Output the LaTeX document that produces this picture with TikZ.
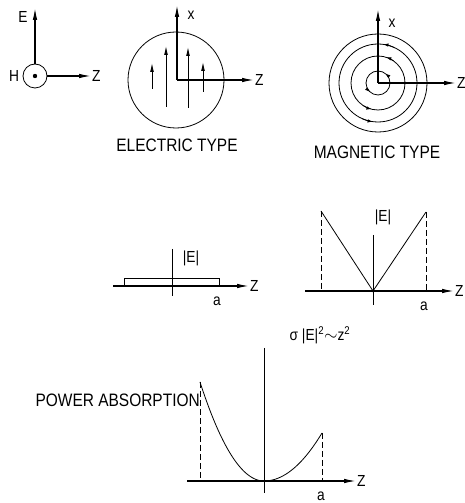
\documentclass[tikz,border=0pt]{standalone}
\usepackage{fontspec}
\setmainfont{Liberation Sans}
\newfontfamily\drafting[FakeStretch=0.86]{Liberation Sans}
\usetikzlibrary{arrows.meta}

\begin{document}
\begin{tikzpicture}[x=1pt, y=1pt, >={Latex[length=12pt,width=4.5pt]},
  axis/.style={->, line width=1.2pt},
  thinline/.style={line width=0.8pt},
  fieldarrow/.style={-{Latex[length=9pt,width=3.8pt]}, line width=0.8pt},
  ringarrow/.style={-{Latex[length=5pt,width=3.5pt]}, line width=0.8pt},
  guide/.style={dashed, line width=0.8pt, dash pattern=on 6pt off 3pt},
  lbl/.style={font=\drafting\fontsize{16}{18}\selectfont, inner sep=1pt},
  caption/.style={font=\drafting\fontsize{18}{20}\selectfont, inner sep=1pt}]
  \useasboundingbox (0,0) rectangle (465,503);

  % --- 1. E, H, Z ---
  \coordinate (H) at (35,427);
  \draw[thinline] (H) circle (12);
  \fill (H) circle (2.2);
  \draw[axis] (35,439) -- (35,495) coordinate (Etip);
  \draw[axis] (47,427) -- (91,427) coordinate (Ztip1);
  \node[lbl] (Elbl) at (23,486) {E};
  \node[lbl] (Hlbl) at (14,427) {H};
  \node[lbl, right] (Zlbl1) at (Ztip1) {Z};

  % --- 2. electric type ---
  \coordinate (Oe) at (177,423);
  \draw[thinline] (176,423) circle (48);
  \draw[axis] (Oe) -- (177,498) coordinate (Xtip2);
  \draw[axis] (Oe) -- (254,423) coordinate (Ztip2);
  \node[lbl] (Xlbl2) at (191,488) {x};
  \node[lbl, right] (Zlbl2) at (Ztip2) {Z};
  \foreach \x/\ya/\yb in {152/414/440, 166/396/457, 188/395/456, 203/411/441}
    \draw[fieldarrow] (\x,\ya) -- (\x,\yb);
  \node[caption] (eltype) at (177,358) {ELECTRIC TYPE};

  % --- 3. magnetic type ---
  \coordinate (M) at (378,420);
  \foreach \r in {49,39,27,12}
    \draw[thinline] (M) circle (\r);
  \foreach \r/\a/\b in {39/66/82, 27/55/72, 12/30/52, 39/246/262, 27/238/256, 12/205/228}
    \draw[ringarrow] (M) ++(\a:\r) arc[start angle=\a, end angle=\b, radius=\r];
  \draw[axis] (M) -- (378,494) coordinate (Xtip3);
  \draw[axis] (M) -- (456,420) coordinate (Ztip3);
  \node[lbl] (Xlbl3) at (392,480) {x};
  \node[lbl, right] (Zlbl3) at (Ztip3) {Z};
  \node[caption] (magtype) at (377,351) {MAGNETIC TYPE};

  % --- 4. |E| constant ---
  \draw[thinline] (172,254) -- (172,207);
  \draw[axis] (113,217) -- (249,217) coordinate (Ztip4);
  \draw[thinline] (124,217) -- (124,225) -- (219,225) -- (219,217);
  \node[lbl] (Elbl4) at (191,245) {|E|};
  \node[lbl] (albl4) at (217,202) {a};
  \node[lbl, right] (Zlbl4) at (Ztip4) {Z};

  % --- 5. |E| linear ---
  \draw[thinline] (373,268) -- (373,198);
  \draw[axis] (305,212) -- (454,212) coordinate (Ztip5);
  \draw[thinline] (321,292) -- (373,212) -- (426,291);
  \draw[guide] (321,292) -- (321,212);
  \draw[guide] (426,291) -- (426,212);
  \fill (373,212) circle (1.5);
  \node[lbl] (Elbl5) at (383,286) {|E|};
  \node[lbl] (albl5) at (424,197) {a};
  \node[lbl, right] (Zlbl5) at (Ztip5) {Z};

  % --- 6. power absorption ---
  \draw[thinline] (264,155) -- (264,10);
  \draw[axis] (187,22) -- (356,22) coordinate (Ztip6);
  \draw[thinline] plot[domain=200:264, samples=40]
    (\x, {22+99*((\x-264)/64)*((\x-264)/64)});
  \draw[thinline] plot[domain=264:322, samples=40]
    (\x, {22+48*((\x-264)/58)*((\x-264)/58)});
  \draw[guide] (200,121) -- (200,22);
  \draw[guide] (322,70) -- (322,22);
  \node[lbl] (sigma) at (320,168) {σ |E|\textsuperscript{2}$\sim$z\textsuperscript{2}};
  \node[caption, anchor=east] (power) at (201,103) {POWER ABSORPTION};
  \node[lbl] (albl6) at (321,7) {a};
  \node[lbl, right] (Zlbl6) at (Ztip6) {Z};

\end{tikzpicture}
\end{document}
